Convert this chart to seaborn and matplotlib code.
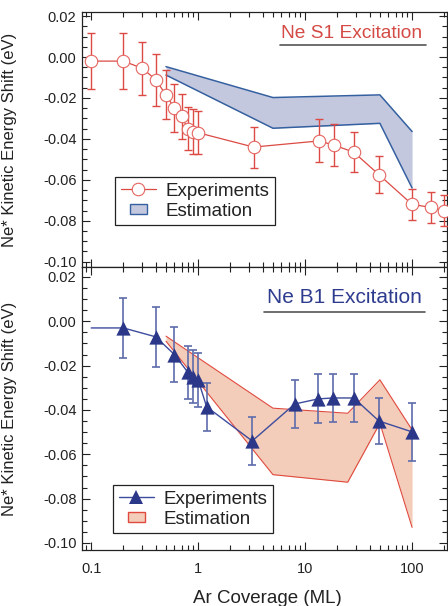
import numpy as np
import pandas as pd
import seaborn as sns
import matplotlib
matplotlib.use("Agg")
import matplotlib.pyplot as plt
from matplotlib.lines import Line2D
from matplotlib.patches import Patch, Rectangle
from matplotlib.legend_handler import HandlerPatch
from matplotlib.ticker import LogLocator, MultipleLocator, FixedLocator, FixedFormatter

# ---------------- data ----------------
# Ne S1 excitation (top panel)
x_s1 = [0.1, 0.2, 0.3, 0.4, 0.5, 0.6, 0.7, 0.8, 0.9, 1.0, 3.3, 13.5, 18.5, 28.5, 49, 100, 150, 200]
y_s1 = [-0.002, -0.002, -0.0055, -0.011, -0.0185, -0.025, -0.029, -0.035, -0.0365, -0.037,
        -0.044, -0.041, -0.043, -0.0465, -0.0575, -0.072, -0.0735, -0.075]
err_s1 = [0.0138, 0.0138, 0.013, 0.0127, 0.012, 0.0118, 0.011, 0.0105, 0.011, 0.0105,
          0.010, 0.0105, 0.0101, 0.0099, 0.0089, 0.0077, 0.0076, 0.0076]
band_s1_x = [0.5, 5, 50, 100]
band_s1_hi = [-0.0047, -0.0198, -0.0185, -0.0364]
band_s1_lo = [-0.0088, -0.0348, -0.0324, -0.064]

# Ne B1 excitation (bottom panel); first entry is the line start without marker
x_b1 = [0.1, 0.2, 0.4, 0.6, 0.8, 0.9, 1.0, 1.2, 3.2, 8.0, 13.3, 18.3, 28.5, 49, 100]
y_b1 = [-0.003, -0.003, -0.007, -0.015, -0.023, -0.025, -0.0265, -0.0386, -0.054,
        -0.0373, -0.035, -0.0346, -0.0346, -0.045, -0.0499]
err_b1 = [np.nan, 0.0136, 0.0134, 0.0126, 0.012, 0.012, 0.012, 0.0107, 0.0108,
          0.011, 0.011, 0.011, 0.011, 0.0105, 0.013]
band_b1_x = [0.5, 5, 25, 50, 100]
band_b1_hi = [-0.0067, -0.0392, -0.0415, -0.0264, -0.049]
band_b1_lo = [-0.009, -0.0692, -0.0726, -0.046, -0.093]

yticks = [0.02, 0.00, -0.02, -0.04, -0.06, -0.08, -0.10]
ytick_labels = ["0.02", "0.00", "-0.02", "-0.04", "-0.06", "-0.08", "-0.10"]
xticks = [0.1, 1, 10, 100]
xtick_labels = ["0.1", "1", "10", "100"]

# ---------------- style ----------------
sns.set_theme(style="ticks")
plt.rcParams['font.family'] = ['Liberation Sans', 'DejaVu Sans']
plt.rcParams['axes.unicode_minus'] = False

RED = "#dc4a44"
RED_LIGHT = "#e46560"
NAVY = "#2b3788"
NAVY_LINE = "#3d4c9e"
NAVY_ERR = "#5d6cab"
BLUE_FILL = "#c4c8df"
BLUE_EDGE = "#3560a0"
OR_FILL = "#f3cdb9"
OR_EDGE = "#e04a3e"

fig = plt.figure(figsize=(4.48, 6.06), dpi=100)
ax1 = fig.add_axes([82/448, 1-267/606, 365/448, 255/606])
ax2 = fig.add_axes([82/448, 1-550/606, 365/448, 283/606])

df_s1 = pd.DataFrame({"x": x_s1, "y": y_s1})
df_b1 = pd.DataFrame({"x": x_b1, "y": y_b1})


class SmallPatch(HandlerPatch):
    def __init__(self):
        def f(legend, orig_handle, xdescent, ydescent, width, height, fontsize):
            w = width * 0.48
            h = height * 0.75
            return Rectangle((-xdescent + (width - w) / 2, -ydescent + (height - h) / 2), w, h)
        super().__init__(patch_func=f)


# ---- top panel ----
ax1.fill_between(band_s1_x, band_s1_lo, band_s1_hi, color=BLUE_FILL, lw=0, zorder=1)
ax1.plot(band_s1_x, band_s1_hi, color=BLUE_EDGE, lw=1.1, zorder=2)
ax1.plot(band_s1_x, band_s1_lo, color=BLUE_EDGE, lw=1.1, zorder=2)
ax1.errorbar(x_s1, y_s1, yerr=err_s1, fmt="none", ecolor=RED, elinewidth=1.0,
             capsize=2.6, capthick=1.0, zorder=3)
sns.lineplot(data=df_s1, x="x", y="y", ax=ax1, color=RED, lw=0.9, marker="o",
             markersize=9, markerfacecolor="white", markeredgecolor=RED_LIGHT,
             markeredgewidth=0.8, zorder=4, legend=False, estimator=None, sort=False)

# ---- bottom panel ----
ax2.fill_between(band_b1_x, band_b1_lo, band_b1_hi, color=OR_FILL, lw=0, zorder=1)
ax2.plot(band_b1_x, band_b1_hi, color=OR_EDGE, lw=0.8, zorder=2)
ax2.plot(band_b1_x, band_b1_lo, color=OR_EDGE, lw=0.8, zorder=2)
ax2.errorbar(x_b1, y_b1, yerr=err_b1, fmt="none", ecolor=NAVY_ERR, elinewidth=1.2,
             capsize=3.2, capthick=1.2, zorder=3)
sns.lineplot(data=df_b1, x="x", y="y", ax=ax2, color=NAVY_LINE, lw=1.0,
             zorder=4, legend=False, estimator=None, sort=False)
sns.scatterplot(data=df_b1.iloc[1:], x="x", y="y", ax=ax2, color=NAVY, marker="^",
                s=105, linewidth=0, zorder=5, legend=False)

for ax, ylim in ((ax1, (-0.1026, 0.022)), (ax2, (-0.1032, 0.0245))):
    ax.set_xscale("log")
    ax.set_xlim(0.082, 212)
    ax.set_ylim(*ylim)
    ax.yaxis.set_major_locator(FixedLocator(yticks))
    ax.yaxis.set_major_formatter(FixedFormatter(ytick_labels))
    ax.yaxis.set_minor_locator(MultipleLocator(0.005))
    ax.xaxis.set_major_locator(FixedLocator(xticks))
    ax.xaxis.set_minor_locator(LogLocator(base=10, subs=np.arange(2, 10), numticks=20))
    ax.tick_params(which="both", direction="in", top=True, right=True, width=0.8,
                   color="#222222")
    ax.tick_params(which="major", length=6)
    ax.tick_params(which="minor", length=3.5)
    ax.tick_params(axis="y", labelsize=10.5, pad=4, labelcolor="#222222")
    ax.tick_params(axis="x", labelsize=10.5, pad=8.5, labelcolor="#222222")
    for s in ax.spines.values():
        s.set_linewidth(0.9)
        s.set_color("#222222")
    ax.set_ylabel("Ne* Kinetic Energy Shift (eV)", fontsize=12, color="#222222")
    ax.yaxis.set_label_coords(-0.178, 0.5)
    ax.set_xlabel("")

ax1.tick_params(axis="x", labelbottom=False)
ax2.xaxis.set_major_formatter(FixedFormatter(xtick_labels))
ax2.set_xlabel("Ar Coverage (ML)", fontsize=13.5, color="#222222")
ax2.xaxis.set_label_coords(0.507, -0.14)

# titles with underline
fig.text(352/448, 1-33/606, "Ne S1 Excitation", color="#d44a45", fontsize=13.8,
         ha="center", va="center")
fig.add_artist(Line2D([280/448, 426/448], [1-44.5/606, 1-44.5/606], color="#555555", lw=1.2))
fig.text(344/448, 1-297.5/606, "Ne B1 Excitation", color="#2e3c8f", fontsize=15,
         ha="center", va="center")
fig.add_artist(Line2D([264/448, 425/448], [1-311.7/606, 1-311.7/606], color="#555555", lw=1.2))

# legends
h1 = [Line2D([], [], color=RED, lw=0.9, marker="o", markersize=9, markerfacecolor="white",
             markeredgecolor=RED_LIGHT, markeredgewidth=0.8),
      Patch(facecolor=BLUE_FILL, edgecolor=BLUE_EDGE, lw=1.0)]
h2 = [Line2D([], [], color=NAVY_LINE, lw=1.0, marker="^", markersize=10.5,
             markerfacecolor=NAVY, markeredgewidth=0),
      Patch(facecolor=OR_FILL, edgecolor=OR_EDGE, lw=1.0)]
common = dict(loc="upper left", fontsize=13.5, frameon=True, fancybox=False,
              edgecolor="#222222", framealpha=1, borderpad=0.3, labelspacing=0.15,
              handlelength=1.9, handletextpad=0.5, borderaxespad=0,
              handler_map={Patch: SmallPatch()})
leg1 = ax1.legend(h1, ["Experiments", "Estimation"],
                  bbox_to_anchor=((115-82)/365, (267-177)/255), **common)
leg2 = ax2.legend(h2, ["Experiments", "Estimation"],
                  bbox_to_anchor=((113-82)/365, (550-485)/283), **common)
for lg in (leg1, leg2):
    lg.get_frame().set_linewidth(0.9)
    for t in lg.get_texts():
        t.set_color("#222222")

fig.savefig("out.png", dpi=100)
